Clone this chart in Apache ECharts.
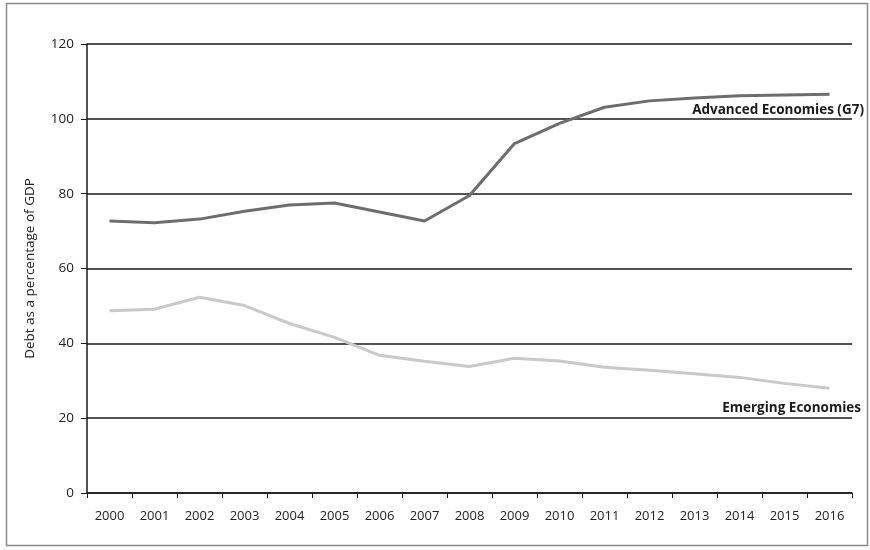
<!DOCTYPE html>
<html>
<head>
<meta charset="utf-8">
<script src="https://cdn.jsdelivr.net/npm/echarts@6/dist/echarts.min.js"></script>
<style>
  html, body { margin: 0; padding: 0; background: #fff; }
  #chart { width: 870px; height: 550px; }
</style>
</head>
<body>
<div id="chart"></div>
<script>
// Government debt, % of GDP
const years = ['2000','2001','2002','2003','2004','2005','2006','2007','2008',
               '2009','2010','2011','2012','2013','2014','2015','2016'];
const advancedG7 = [72.7, 72.2, 73.2, 75.3, 77.0, 77.5, 75.1, 72.7, 79.5,
                    93.4, 98.8, 103.1, 104.8, 105.6, 106.2, 106.4, 106.6];
const emerging = [48.7, 49.1, 52.3, 50.1, 45.3, 41.6, 36.8, 35.2, 33.8,
                  36.0, 35.3, 33.6, 32.8, 31.9, 30.9, 29.3, 28.0];
const yTicks = { min: 0, max: 120, step: 20 };
const seriesNames = ['Advanced Economies (G7)', 'Emerging Economies'];
const yTitle = 'Debt as a percentage of GDP';

const FONT = "'Open Sans', sans-serif";
const chart = echarts.init(document.getElementById('chart'), null, { renderer: 'canvas' });

chart.setOption({
  animation: false,
  backgroundColor: '#fff',
  grid: { left: 87, right: 18, top: 44, bottom: 57, containLabel: false },
  xAxis: {
    type: 'category',
    data: years,
    boundaryGap: true,
    axisLine: { lineStyle: { color: '#1a1a1a', width: 1.5 } },
    axisTick: { show: true, length: 5, alignWithLabel: false, lineStyle: { color: '#1a1a1a', width: 1 } },
    axisLabel: { color: '#222', fontFamily: FONT, fontSize: 13, margin: 17 },
    splitLine: { show: false }
  },
  yAxis: {
    type: 'value',
    min: yTicks.min, max: yTicks.max, interval: yTicks.step,
    name: yTitle,
    nameLocation: 'middle',
    nameGap: 50,
    nameTextStyle: { color: '#222', fontFamily: FONT, fontSize: 13.5 },
    axisLine: { show: true, lineStyle: { color: '#1a1a1a', width: 1.5 } },
    axisTick: { show: true, length: 6, lineStyle: { color: '#1a1a1a', width: 1 } },
    axisLabel: { color: '#222', fontFamily: FONT, fontSize: 13.5, margin: 13 },
    splitLine: { show: true, lineStyle: { color: '#1a1a1a', width: 1.5 } }
  },
  series: [
    {
      name: seriesNames[0], type: 'line', data: advancedG7,
      symbol: 'none', smooth: false,
      lineStyle: { color: '#6d6d6f', width: 3 }, z: 3
    },
    {
      name: seriesNames[1], type: 'line', data: emerging,
      symbol: 'none', smooth: false,
      lineStyle: { color: '#c9c9c9', width: 3 }, z: 3
    }
  ],
  graphic: [
    {
      type: 'rect', z: 100, silent: true,
      shape: { x: 6.5, y: 3.5, width: 861, height: 542 },
      style: { fill: 'none', stroke: '#8a8a8a', lineWidth: 1.5 }
    },
    {
      type: 'text', z: 100, right: 6, top: 103,
      style: { text: seriesNames[0], fill: '#1a1a1a', font: "bold 13.5px " + FONT }
    },
    {
      type: 'text', z: 100, right: 9, top: 401,
      style: { text: seriesNames[1], fill: '#1a1a1a', font: "bold 13.5px " + FONT }
    }
  ]
});
</script>
</body>
</html>
